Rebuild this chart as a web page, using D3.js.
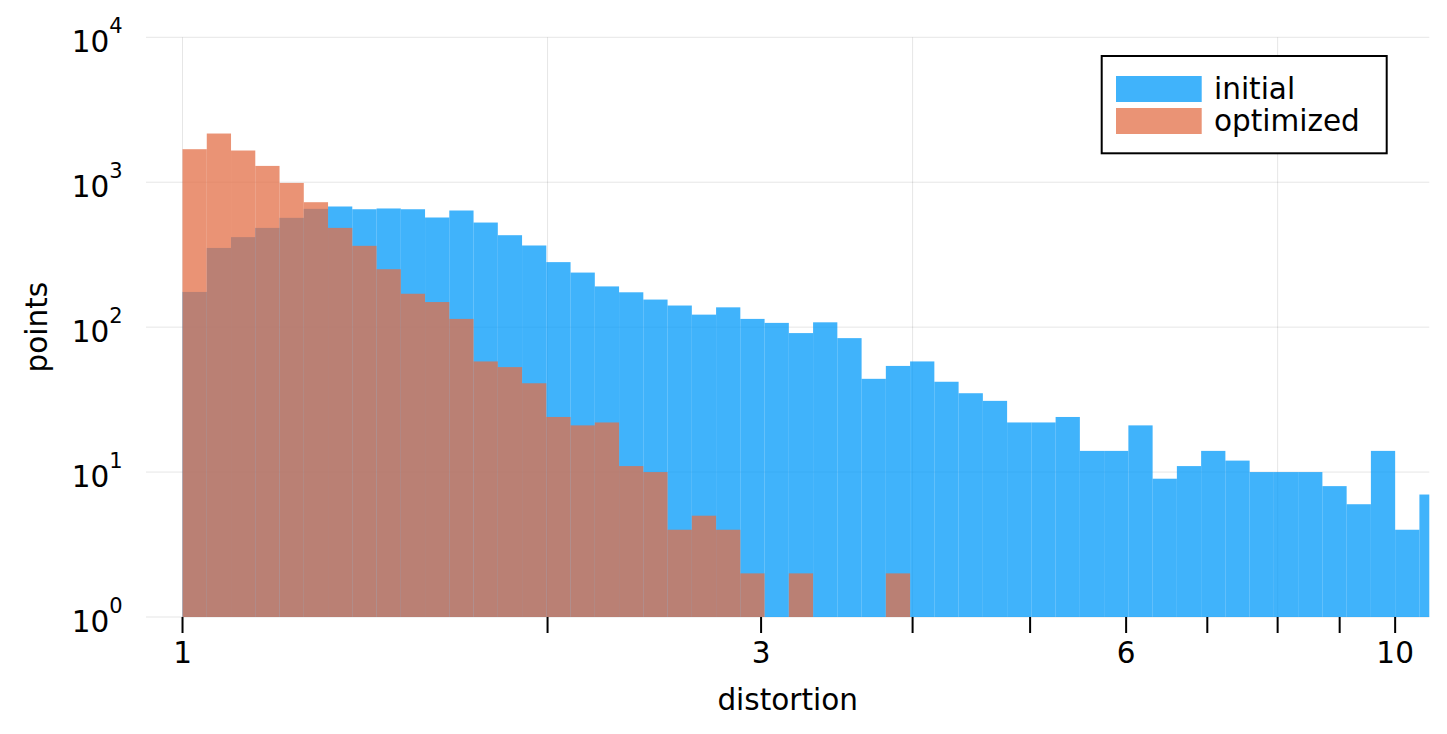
<!DOCTYPE html>
<html>
<head>
<meta charset="utf-8">
<script src="https://cdn.jsdelivr.net/npm/d3@7"></script>
<style>
  html, body { margin: 0; padding: 0; background: #fff; }
  svg { display: block; font-family: "DejaVu Sans", sans-serif; }
</style>
</head>
<body>
<svg id="chart" width="1447" height="734"></svg>
<script>
// ---- data ----
const binStepLog10 = 0.02;           // histogram bins: equal width in log10(distortion)
const seriesNames = ["initial", "optimized"];
const seriesColors = ["#009AFA", "#E36F47"];
const initialCounts = [175, 352, 418, 484, 568, 655, 680, 651, 659, 651, 571, 638, 527, 431, 366, 281,
  238, 191, 174, 155, 141, 122, 137, 114, 107, 91, 108, 84, 44, 54, 58, 42, 35, 31, 22, 22, 24,
  14, 14, 21, 9, 11, 14, 12, 10, 10, 10, 8, 6, 14, 4, 7];
const optimizedCounts = [1690, 2168, 1655, 1296, 989, 728, 484, 364, 251, 170, 149, 114, 58, 53, 41, 24,
  21, 22, 11, 10, 4, 5, 4, 2, 0, 2, 0, 0, 0, 2, 0, 0, 0, 0, 0, 0, 0,
  0, 0, 0, 0, 0, 0, 0, 0, 0, 0, 0, 0, 0, 0, 0];
const xTickValues = [1, 2, 3, 4, 5, 6, 7, 8, 9, 10];
const xTickLabels = [1, 3, 6, 10];
const xGridValues = [1, 2, 4, 8];
const yTickExponents = [0, 1, 2, 3, 4];
const xDomain = [0.933, 10.67];
const yDomain = [1, 10000];

// ---- layout ----
const svg = d3.select("#chart");
const plot = { left: 146, right: 1429.3, top: 37.3, bottom: 617 };
const fs = 29.5, fsSup = 21;

const x = d3.scaleLog().domain(xDomain).range([plot.left, plot.right]);
const y = d3.scaleLog().domain(yDomain).range([plot.bottom, plot.top]);

svg.append("defs").append("clipPath").attr("id", "clip")
  .append("rect")
  .attr("x", plot.left).attr("y", plot.top)
  .attr("width", plot.right - plot.left).attr("height", plot.bottom - plot.top);

// grid
const grid = svg.append("g");
grid.selectAll("line.v").data(xGridValues).join("line")
  .attr("x1", d => x(d)).attr("x2", d => x(d))
  .attr("y1", plot.top).attr("y2", plot.bottom)
  .attr("stroke", "#000").attr("stroke-opacity", 0.1).attr("stroke-width", 1);
grid.selectAll("line.h").data(yTickExponents).join("line")
  .attr("x1", plot.left).attr("x2", plot.right)
  .attr("y1", d => y(Math.pow(10, d))).attr("y2", d => y(Math.pow(10, d)))
  .attr("stroke", "#000").attr("stroke-opacity", 0.1).attr("stroke-width", 1);

// bars
function binsOf(counts) {
  return counts.map((c, i) => ({
    x0: Math.pow(10, i * binStepLog10),
    x1: Math.pow(10, (i + 1) * binStepLog10),
    c
  })).filter(d => d.c > 0);
}
const barsG = svg.append("g").attr("clip-path", "url(#clip)");
[initialCounts, optimizedCounts].forEach((counts, si) => {
  barsG.append("g").selectAll("rect").data(binsOf(counts)).join("rect")
    .attr("x", d => x(d.x0))
    .attr("width", d => x(d.x1) - x(d.x0))
    .attr("y", d => y(d.c))
    .attr("height", d => y(1) - y(d.c))
    .attr("fill", seriesColors[si])
    .attr("fill-opacity", 0.75);
});

// x ticks
const xt = svg.append("g");
xt.selectAll("line").data(xTickValues).join("line")
  .attr("x1", d => x(d)).attr("x2", d => x(d))
  .attr("y1", plot.bottom).attr("y2", plot.bottom + 16)
  .attr("stroke", "#000").attr("stroke-width", 2);
xt.selectAll("text").data(xTickLabels).join("text")
  .attr("x", d => x(d)).attr("y", 663)
  .attr("text-anchor", "middle")
  .attr("font-size", fs).attr("fill", "#000")
  .text(d => d);

// y tick labels (10^n)
const yt = svg.append("g");
yt.selectAll("text").data(yTickExponents).join("text")
  .attr("x", 122.7)
  .attr("y", d => y(Math.pow(10, d)) + 15)
  .attr("text-anchor", "end")
  .attr("font-size", fs).attr("fill", "#000")
  .each(function(d) {
    const t = d3.select(this);
    t.append("tspan").text("10");
    t.append("tspan").attr("dy", -19).attr("font-size", fsSup).text(d);
  });

// axis titles
svg.append("text")
  .attr("x", (plot.left + plot.right) / 2).attr("y", 710)
  .attr("text-anchor", "middle").attr("font-size", fs).attr("fill", "#000")
  .text("distortion");
svg.append("text")
  .attr("transform", `translate(47,${(plot.top + plot.bottom) / 2}) rotate(-90)`)
  .attr("text-anchor", "middle").attr("font-size", fs).attr("fill", "#000")
  .text("points");

// legend
const lg = svg.append("g");
lg.append("rect")
  .attr("x", 1101.7).attr("y", 56).attr("width", 285).attr("height", 97.3)
  .attr("fill", "#fff").attr("stroke", "#000").attr("stroke-width", 2);
const legendRows = [{ sy: 76, ty: 99.3 }, { sy: 108, ty: 130.5 }];
seriesNames.forEach((name, i) => {
  lg.append("rect")
    .attr("x", 1116).attr("y", legendRows[i].sy).attr("width", 85.7).attr("height", 26)
    .attr("fill", seriesColors[i]).attr("fill-opacity", 0.75);
  lg.append("text")
    .attr("x", 1214).attr("y", legendRows[i].ty)
    .attr("font-size", fs).attr("fill", "#000")
    .text(name);
});
</script>
</body>
</html>
